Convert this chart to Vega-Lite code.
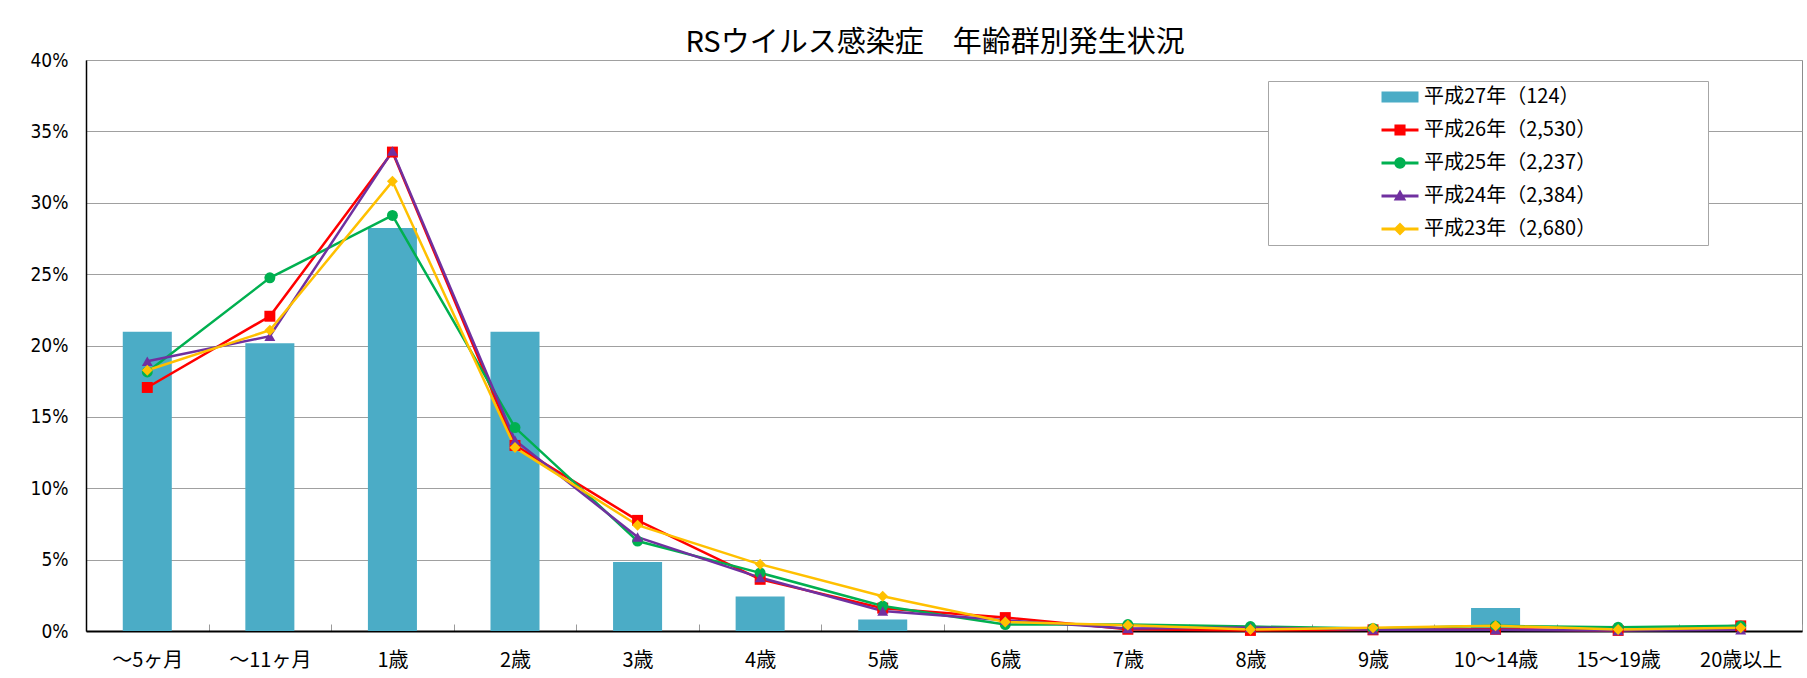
{
  "$schema": "https://vega.github.io/schema/vega-lite/v6.json",
  "width": 1716,
  "height": 571,
  "autosize": {"type": "none"},
  "padding": {"left": 86, "top": 60, "right": 5, "bottom": 47},
  "background": "white",
  "title": {"text": "RSウイルス感染症　年齢群別発生状況", "font": "Noto Sans CJK JP", "fontSize": 29, "fontWeight": "normal", "color": "#000000", "offset": 8, "dy": 15, "dx": -9, "anchor": "middle"},
  "config": {"view": {"stroke": "#8c8c8c", "strokeWidth": 1}},
  "data": {"values": [
    {"age": "～5ヶ月", "series": "平成27年（124）", "pct": 20.97},
    {"age": "～11ヶ月", "series": "平成27年（124）", "pct": 20.16},
    {"age": "1歳", "series": "平成27年（124）", "pct": 28.23},
    {"age": "2歳", "series": "平成27年（124）", "pct": 20.97},
    {"age": "3歳", "series": "平成27年（124）", "pct": 4.84},
    {"age": "4歳", "series": "平成27年（124）", "pct": 2.42},
    {"age": "5歳", "series": "平成27年（124）", "pct": 0.81},
    {"age": "6歳", "series": "平成27年（124）", "pct": 0},
    {"age": "7歳", "series": "平成27年（124）", "pct": 0},
    {"age": "8歳", "series": "平成27年（124）", "pct": 0},
    {"age": "9歳", "series": "平成27年（124）", "pct": 0},
    {"age": "10～14歳", "series": "平成27年（124）", "pct": 1.61},
    {"age": "15～19歳", "series": "平成27年（124）", "pct": 0},
    {"age": "20歳以上", "series": "平成27年（124）", "pct": 0},
    {"age": "～5ヶ月", "series": "平成26年（2,530）", "pct": 17.06},
    {"age": "～11ヶ月", "series": "平成26年（2,530）", "pct": 22.05},
    {"age": "1歳", "series": "平成26年（2,530）", "pct": 33.55},
    {"age": "2歳", "series": "平成26年（2,530）", "pct": 13.0},
    {"age": "3歳", "series": "平成26年（2,530）", "pct": 7.75},
    {"age": "4歳", "series": "平成26年（2,530）", "pct": 3.62},
    {"age": "5歳", "series": "平成26年（2,530）", "pct": 1.6},
    {"age": "6歳", "series": "平成26年（2,530）", "pct": 0.94},
    {"age": "7歳", "series": "平成26年（2,530）", "pct": 0.12},
    {"age": "8歳", "series": "平成26年（2,530）", "pct": 0.04},
    {"age": "9歳", "series": "平成26年（2,530）", "pct": 0.08},
    {"age": "10～14歳", "series": "平成26年（2,530）", "pct": 0.12},
    {"age": "15～19歳", "series": "平成26年（2,530）", "pct": 0.04},
    {"age": "20歳以上", "series": "平成26年（2,530）", "pct": 0.36},
    {"age": "～5ヶ月", "series": "平成25年（2,237）", "pct": 18.15},
    {"age": "～11ヶ月", "series": "平成25年（2,237）", "pct": 24.74},
    {"age": "1歳", "series": "平成25年（2,237）", "pct": 29.11},
    {"age": "2歳", "series": "平成25年（2,237）", "pct": 14.25},
    {"age": "3歳", "series": "平成25年（2,237）", "pct": 6.3},
    {"age": "4歳", "series": "平成25年（2,237）", "pct": 4.07},
    {"age": "5歳", "series": "平成25年（2,237）", "pct": 1.75},
    {"age": "6歳", "series": "平成25年（2,237）", "pct": 0.45},
    {"age": "7歳", "series": "平成25年（2,237）", "pct": 0.45},
    {"age": "8歳", "series": "平成25年（2,237）", "pct": 0.31},
    {"age": "9歳", "series": "平成25年（2,237）", "pct": 0.18},
    {"age": "10～14歳", "series": "平成25年（2,237）", "pct": 0.36},
    {"age": "15～19歳", "series": "平成25年（2,237）", "pct": 0.27},
    {"age": "20歳以上", "series": "平成25年（2,237）", "pct": 0.36},
    {"age": "～5ヶ月", "series": "平成24年（2,384）", "pct": 18.9},
    {"age": "～11ヶ月", "series": "平成24年（2,384）", "pct": 20.65},
    {"age": "1歳", "series": "平成24年（2,384）", "pct": 33.62},
    {"age": "2歳", "series": "平成24年（2,384）", "pct": 13.36},
    {"age": "3歳", "series": "平成24年（2,384）", "pct": 6.58},
    {"age": "4歳", "series": "平成24年（2,384）", "pct": 3.74},
    {"age": "5歳", "series": "平成24年（2,384）", "pct": 1.4},
    {"age": "6歳", "series": "平成24年（2,384）", "pct": 0.75},
    {"age": "7歳", "series": "平成24年（2,384）", "pct": 0.17},
    {"age": "8歳", "series": "平成24年（2,384）", "pct": 0.25},
    {"age": "9歳", "series": "平成24年（2,384）", "pct": 0.08},
    {"age": "10～14歳", "series": "平成24年（2,384）", "pct": 0.08},
    {"age": "15～19歳", "series": "平成24年（2,384）", "pct": 0.04},
    {"age": "20歳以上", "series": "平成24年（2,384）", "pct": 0.08},
    {"age": "～5ヶ月", "series": "平成23年（2,680）", "pct": 18.27},
    {"age": "～11ヶ月", "series": "平成23年（2,680）", "pct": 21.07},
    {"age": "1歳", "series": "平成23年（2,680）", "pct": 31.5},
    {"age": "2歳", "series": "平成23年（2,680）", "pct": 12.85},
    {"age": "3歳", "series": "平成23年（2,680）", "pct": 7.41},
    {"age": "4歳", "series": "平成23年（2,680）", "pct": 4.67},
    {"age": "5歳", "series": "平成23年（2,680）", "pct": 2.43},
    {"age": "6歳", "series": "平成23年（2,680）", "pct": 0.63},
    {"age": "7歳", "series": "平成23年（2,680）", "pct": 0.41},
    {"age": "8歳", "series": "平成23年（2,680）", "pct": 0.11},
    {"age": "9歳", "series": "平成23年（2,680）", "pct": 0.22},
    {"age": "10～14歳", "series": "平成23年（2,680）", "pct": 0.37},
    {"age": "15～19歳", "series": "平成23年（2,680）", "pct": 0.11},
    {"age": "20歳以上", "series": "平成23年（2,680）", "pct": 0.22}
  ]},
  "encoding": {
    "x": {
      "field": "age", "type": "nominal",
      "sort": ["～5ヶ月", "～11ヶ月", "1歳", "2歳", "3歳", "4歳", "5歳", "6歳", "7歳", "8歳", "9歳", "10～14歳", "15～19歳", "20歳以上"],
      "scale": {"paddingInner": 0, "paddingOuter": 0},
      "axis": {"title": null, "labelAngle": 0, "labelFont": "Noto Sans CJK JP", "labelFontSize": 20, "labelColor": "#000000", "labelPadding": 26, "domainColor": "#000000", "domainWidth": 2, "tickBand": "extent", "tickSize": -7, "tickColor": "#9a9a9a", "tickWidth": 1, "grid": false}
    },
    "y": {
      "field": "pct", "type": "quantitative",
      "scale": {"domain": [0, 40], "nice": false},
      "axis": {"title": null, "values": [0, 5, 10, 15, 20, 25, 30, 35, 40], "labelExpr": "datum.value + '%'", "labelFont": "DejaVu Sans Condensed", "labelFontSize": 19, "labelColor": "#000000", "labelPadding": 18, "ticks": false, "grid": true, "gridColor": "#a0a0a0", "gridWidth": 1, "domainColor": "#000000", "domainWidth": 1.5}
    }
  },
  "layer": [
    {
      "transform": [{"filter": "datum.series === '平成27年（124）'"}],
      "mark": {"type": "bar", "width": {"band": 0.4}},
      "encoding": {
        "color": {
          "field": "series", "type": "nominal",
          "scale": {"domain": ["平成27年（124）", "平成26年（2,530）", "平成25年（2,237）", "平成24年（2,384）", "平成23年（2,680）"], "range": ["#4BACC6", "#FF0000", "#00B050", "#7030A0", "#FFC000"]},
          "legend": {
            "orient": "none", "legendX": 1182, "legendY": 21, "title": null,
            "padding": 6, "strokeColor": "#a6a6a6", "fillColor": "#ffffff",
            "labelFont": "Noto Sans CJK JP", "labelFontSize": 20, "labelColor": "#000000", "labelLimit": 400,
            "symbolSize": 342, "symbolOffset": 116, "labelOffset": 14, "rowPadding": 13, "symbolStrokeWidth": 0,
            "encode": {"symbols": {"update": {
              "shape": {"signal": "datum.value === '平成27年（124）' ? 'M-2,-0.6H2V0.6H-2Z M32.6,0' : datum.value === '平成26年（2,530）' ? 'M-2,-0.16H2V0.16H-2Z M-0.6,-0.6H0.6V0.6H-0.6Z' : datum.value === '平成25年（2,237）' ? 'M-2,-0.16H2V0.16H-2Z M-0.62,0A0.62,0.62 0 1,1 0.62,0A0.62,0.62 0 1,1 -0.62,0Z' : datum.value === '平成24年（2,384）' ? 'M-2,-0.16H2V0.16H-2Z M0,-0.7L0.68,0.5H-0.68Z' : 'M-2,-0.16H2V0.16H-2Z M0,-0.7L0.7,0L0,0.7L-0.7,0Z'"},
              "fill": {"scale": "color", "field": "value"},
              "stroke": {"value": "transparent"},
              "strokeWidth": {"value": 0},
              "size": {"value": 342},
              "opacity": {"value": 1}
            }}}
          }
        }
      }
    },
    {
      "transform": [{"filter": "datum.series !== '平成27年（124）'"}],
      "mark": {"type": "line", "strokeWidth": 2.5},
      "encoding": {"color": {"field": "series", "type": "nominal"}}
    },
    {
      "transform": [{"filter": "datum.series !== '平成27年（124）'"}],
      "mark": {"type": "point", "filled": true, "opacity": 1, "size": 120},
      "encoding": {
        "color": {"field": "series", "type": "nominal"},
        "shape": {"field": "series", "type": "nominal", "scale": {"domain": ["平成26年（2,530）", "平成25年（2,237）", "平成24年（2,384）", "平成23年（2,680）"], "range": ["square", "circle", "triangle-up", "diamond"]}, "legend": null}
      }
    }
  ]
}
